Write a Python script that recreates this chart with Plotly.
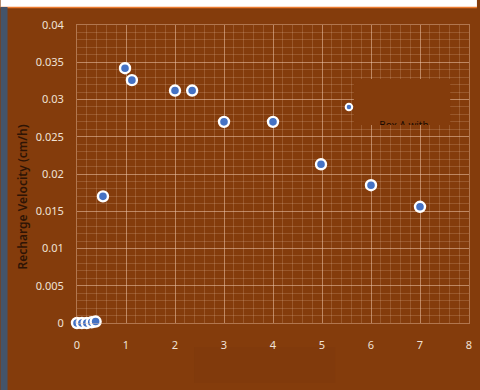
import plotly.graph_objects as go

# Data
x_main = [0, 0.1, 0.2, 0.3, 0.38, 0.53, 0.98, 1.12, 2.0, 2.35, 3.0, 4.0, 4.98, 6.0, 7.0]
y_main = [0.0, 0.0, 0.0, 0.0001, 0.0002, 0.0170, 0.0342, 0.0326, 0.0312, 0.0312,
          0.0270, 0.0270, 0.0213, 0.0185, 0.0156]
x_small = [5.55]
y_small = [0.0290]
x_ticks = [0, 1, 2, 3, 4, 5, 6, 7, 8]
y_ticks = [0, 0.005, 0.01, 0.015, 0.02, 0.025, 0.03, 0.035, 0.04]
y_tick_text = ["0", "0.005", "0.01", "0.015", "0.02", "0.025", "0.03", "0.035", "0.04"]
y_title = "Recharge Velocity (cm/h)"
box_text = "Box A with"

BG = "#843c0c"
MAJOR = "rgba(240,200,175,0.42)"
MINOR = "rgba(240,200,175,0.20)"
TICKC = "#f0e2d6"
FONT = "Noto Sans"

W, H = 480, 390
L, R, T, B = 77, 8, 25, 67
pw, ph = W - L - R, H - T - B


def px(xp):
    return (xp - L) / pw


def py(yp):
    return (H - B - yp) / ph


fig = go.Figure()
fig.add_trace(go.Scatter(
    x=x_main, y=y_main, mode="markers", cliponaxis=False,
    marker=dict(size=10, color="#4472c4", line=dict(color="white", width=2.4)),
    showlegend=False, hoverinfo="skip"))
fig.add_trace(go.Scatter(
    x=x_small, y=y_small, mode="markers", cliponaxis=False,
    marker=dict(size=6.5, color="#4472c4", line=dict(color="white", width=2)),
    showlegend=False, hoverinfo="skip"))

# box (legend-like) on its own subplot so text is clipped
bx0, bx1 = px(356), px(453)
by0, by1 = py(125), py(79)
fig.add_trace(go.Scatter(
    x=[0, 1, 1, 0, 0], y=[0, 0, 1, 1, 0], fill="toself", fillcolor=BG,
    mode="lines", line=dict(width=0, color=BG), xaxis="x2", yaxis="y2",
    showlegend=False, hoverinfo="skip"))
fig.add_trace(go.Scatter(
    x=[0.52], y=[-0.03], mode="text", text=[box_text], cliponaxis=True,
    textfont=dict(family=FONT, size=10, color="#1a0a02"),
    xaxis="x2", yaxis="y2", showlegend=False, hoverinfo="skip"))

fig.update_layout(
    width=W, height=H,
    margin=dict(l=L, r=R, t=T, b=B),
    paper_bgcolor=BG, plot_bgcolor=BG,
    xaxis=dict(range=[0, 8], tickvals=x_ticks, ticktext=[str(v) for v in x_ticks],
               showgrid=True, gridcolor=MAJOR, gridwidth=1,
               minor=dict(dtick=0.2, showgrid=True, gridcolor=MINOR, gridwidth=1),
               zeroline=False, showline=True, linecolor=MAJOR, mirror=True,
               ticks="", ticklabelstandoff=12,
               tickfont=dict(family=FONT, size=11, color=TICKC)),
    yaxis=dict(range=[0, 0.04], tickvals=y_ticks, ticktext=y_tick_text,
               showgrid=True, gridcolor=MAJOR, gridwidth=1,
               minor=dict(dtick=0.001, showgrid=True, gridcolor=MINOR, gridwidth=1),
               zeroline=False, showline=True, linecolor=MAJOR, mirror=True,
               ticks="", ticklabelstandoff=10,
               tickfont=dict(family=FONT, size=11, color=TICKC)),
    xaxis2=dict(domain=[bx0, bx1], range=[0, 1], visible=False, anchor="y2"),
    yaxis2=dict(domain=[by0, by1], range=[0, 1], visible=False, anchor="x2"),
    shapes=[
        dict(type="rect", xref="paper", yref="paper", x0=px(0), x1=px(W),
             y0=py(7), y1=py(0), fillcolor="white", line=dict(width=0), layer="below"),
        dict(type="line", xref="paper", yref="paper", x0=px(0), x1=px(W),
             y0=py(7.5), y1=py(7.5), line=dict(color="#ed7d31", width=1.5), layer="below"),
        dict(type="rect", xref="paper", yref="paper", x0=px(0), x1=px(7),
             y0=py(H), y1=py(7), fillcolor="#44546a", line=dict(width=0), layer="below"),
        dict(type="rect", xref="paper", yref="paper", x0=px(195), x1=px(337),
             y0=py(383), y1=py(347), fillcolor="#813a0c", line=dict(width=0), layer="below"),
    ],
    annotations=[
        dict(text=y_title, xref="paper", yref="paper", x=px(22), y=py(197),
             xanchor="center", yanchor="middle", textangle=-90, showarrow=False,
             font=dict(family=FONT, size=12, color="#2e1405", weight=600)),
    ],
)

fig.write_html("out.html")
